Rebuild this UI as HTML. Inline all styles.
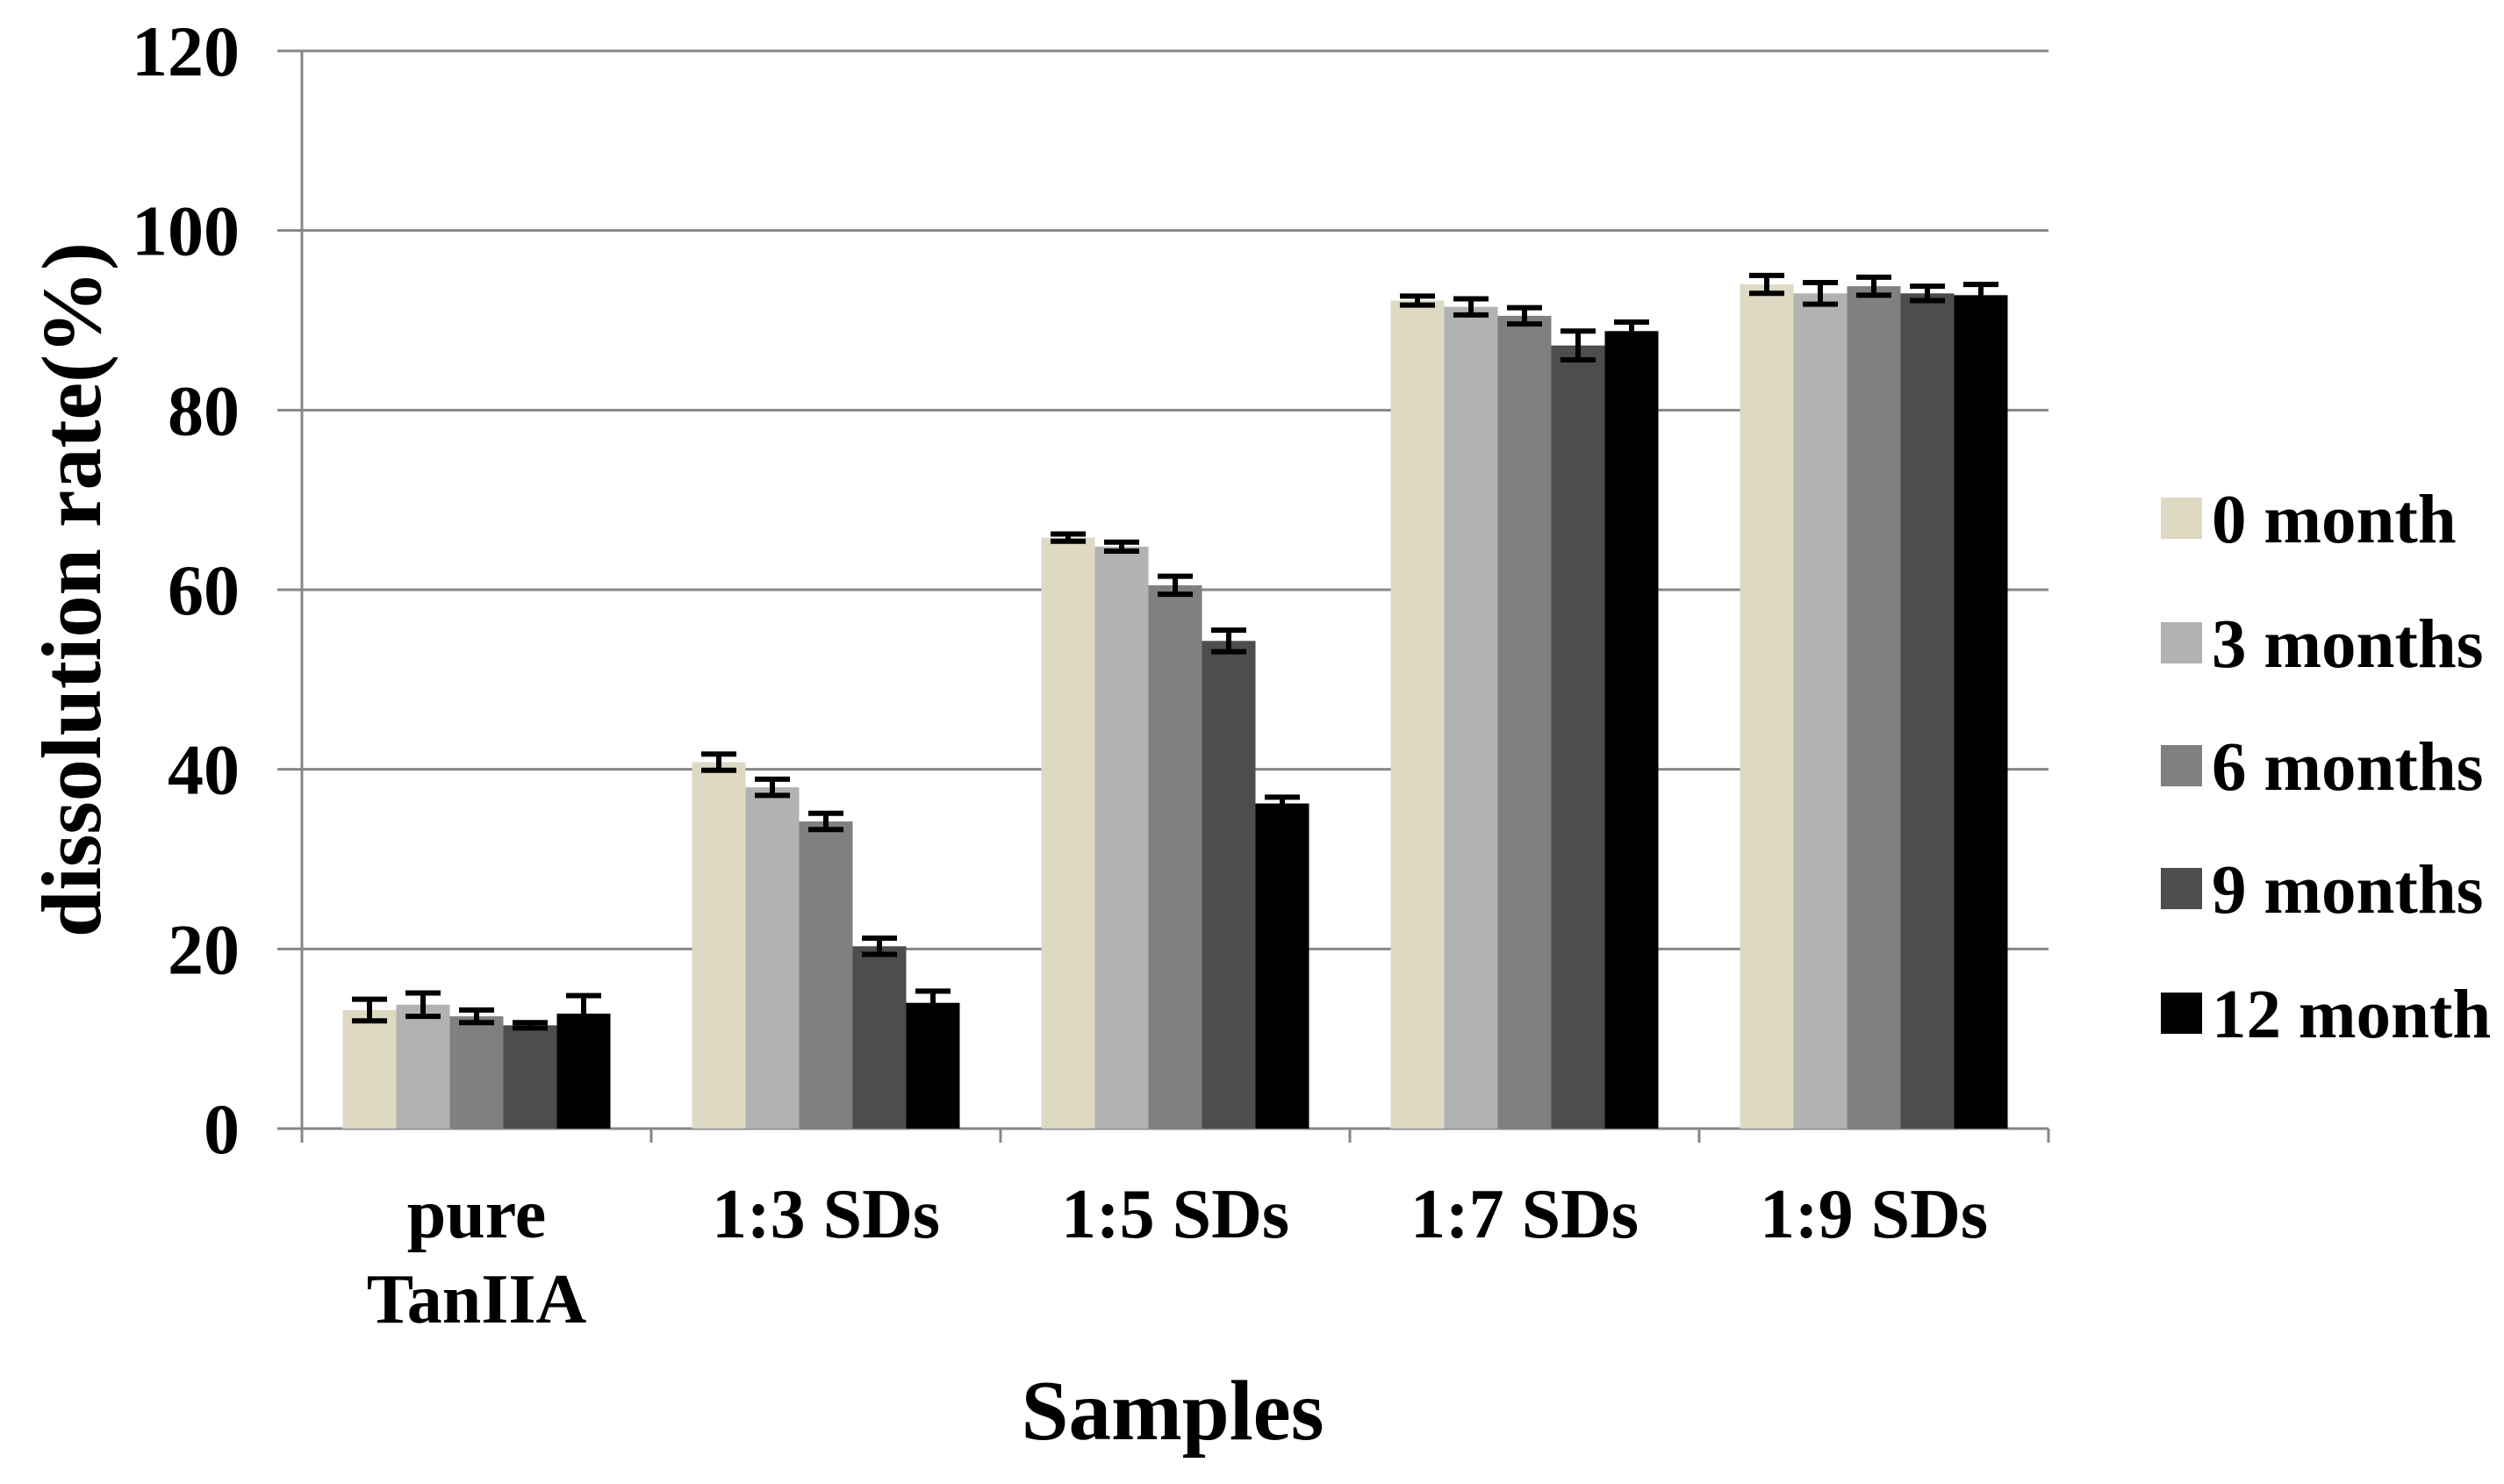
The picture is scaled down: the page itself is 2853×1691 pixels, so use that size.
<!DOCTYPE html>
<html><head><meta charset="utf-8"><style>
html,body{margin:0;padding:0;background:#fff;}
svg{display:block;font-family:"Liberation Serif",serif;font-weight:bold;}
</style></head><body>
<svg id="chart" width="2853" height="1691" viewBox="0 0 2853 1691"></svg>
<script>
const categories = [["pure","TanIIA"],["1:3 SDs"],["1:5 SDs"],["1:7 SDs"],["1:9 SDs"]];
const seriesNames = ["0 month","3 months","6 months","9 months","12 month"];
const seriesColors = ["#ddd9c3","#b2b2b2","#808080","#4d4d4d","#000000"];
const s0 = [13.2,40.8,65.8,92.2,94.0];
const s3 = [13.8,38.0,64.8,91.5,93.0];
const s6 = [12.5,34.2,60.5,90.5,93.8];
const s9 = [11.5,20.3,54.3,87.2,93.0];
const s12 = [12.8,14.0,36.2,88.8,92.8];
const e0 = [1.2,0.9,0.4,0.5,1.0];
const e3 = [1.3,0.9,0.5,0.9,1.2];
const e6 = [0.7,0.9,1.0,0.9,1.0];
const e9 = [0.3,0.9,1.2,1.6,0.8];
const e12 = [2.0,1.3,0.7,1.0,1.2];
const yTicks = [0,20,40,60,80,100,120];

const values=[s0,s3,s6,s9,s12], errs=[e0,e3,e6,e9,e12];
const svg=document.getElementById('chart');
const NS='http://www.w3.org/2000/svg';
const X0=344,X1=2334,Y0=1286,Y1=58;
const y=v=>Y0-(v/120)*(Y0-Y1);
const catW=(X1-X0)/categories.length;
const barW=61, groupOff=(catW-barW*5)/2;
function mk(t,a,p){const e=document.createElementNS(NS,t);for(const k in a)e.setAttribute(k,a[k]);(p||svg).appendChild(e);return e;}

yTicks.forEach(t=>{
  const g=mk('line',{x1:316,x2:X1,y1:y(t),y2:y(t),stroke:'#878787','stroke-width':3});
  
  
  const l=mk('text',{x:273,y:y(t)+28,'text-anchor':'end','font-size':82});
  l.textContent=t;
  
  
});
const ax=mk('line',{x1:X0,x2:X0,y1:Y1,y2:Y0+16,stroke:'#878787','stroke-width':3});


for(let i=1;i<=categories.length;i++){
  const tk=mk('line',{x1:X0+i*catW,x2:X0+i*catW,y1:Y0,y2:Y0+16,stroke:'#878787','stroke-width':3});
  
  
}
categories.forEach((c,ci)=>{
  const cx=X0+ci*catW+catW/2;
  c.forEach((ln,li)=>{
    const t=mk('text',{x:cx,y:1410+li*97,'text-anchor':'middle','font-size':80});
    t.textContent=ln;
    
    
  });
  values.forEach((s,si)=>{
    const bx=X0+ci*catW+groupOff+si*barW;
    const r=mk('rect',{x:bx,y:y(s[ci]),width:barW,height:Y0-y(s[ci]),fill:seriesColors[si]});
    
    
    const mx=bx+barW/2, lo=y(s[ci]-errs[si][ci]), hi=y(s[ci]+errs[si][ci]);
    const g=mk('g',{stroke:'#000','stroke-width':6});
    
    
    mk('line',{x1:mx,x2:mx,y1:lo,y2:hi},g);
    mk('line',{x1:mx-20,x2:mx+20,y1:lo,y2:lo},g);
    mk('line',{x1:mx-20,x2:mx+20,y1:hi,y2:hi},g);
  });
});
seriesNames.forEach((n,i)=>{
  const cy=[591,733,873,1013,1155][i];
  const g=mk('g',{});
  
  
  mk('rect',{x:2462,y:cy-24,width:47,height:47,fill:seriesColors[i]},g);
  const t=mk('text',{x:2520,y:cy+27,'font-size':79},g);
  t.textContent=n;
});
const yt=mk('text',{x:0,y:0,'text-anchor':'middle','font-size':96,transform:'translate(114,672) rotate(-90)'});
yt.textContent='dissolution rate(%)';


const xt=mk('text',{x:1336,y:1640,'text-anchor':'middle','font-size':97});
xt.textContent='Samples';


</script>
</body></html>
